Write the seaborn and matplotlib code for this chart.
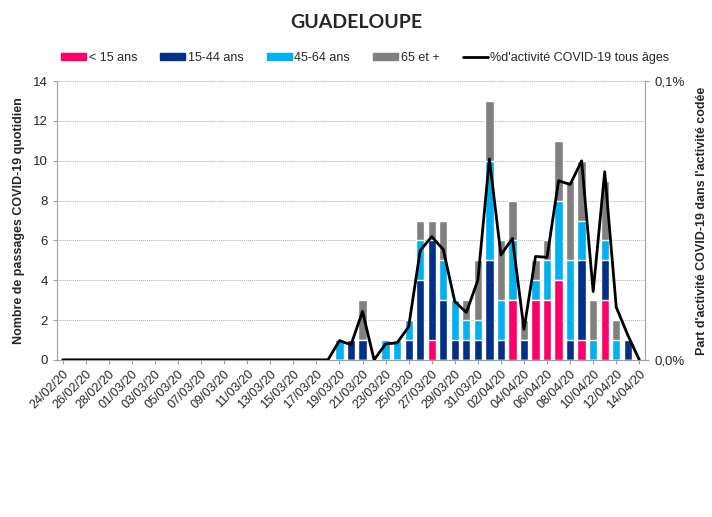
import numpy as np
import pandas as pd
import seaborn as sns
import matplotlib.pyplot as plt
from matplotlib.patches import Patch
from matplotlib.lines import Line2D

# Dates (daily, 24/02/20 -> 14/04/20)
dates = pd.date_range('2020-02-24', '2020-04-14').strftime('%d/%m/%y').tolist()

# Daily counts by age group (first 24 days are zero)
lt15 = [0] * 24 + [0, 0, 0, 0, 0, 0, 0, 0, 1, 0, 0, 0, 0, 0, 0, 3, 0, 3, 3, 4, 0, 1, 0, 3, 0, 0, 0]
a15_44 = [0] * 24 + [0, 1, 1, 0, 0, 0, 1, 4, 5, 3, 1, 1, 1, 5, 1, 0, 1, 0, 0, 0, 1, 4, 0, 2, 0, 1, 0]
a45_64 = [0] * 24 + [1, 0, 0, 0, 1, 1, 1, 2, 0, 2, 2, 1, 1, 5, 2, 3, 0, 1, 2, 4, 4, 2, 1, 1, 1, 0, 0]
a65 = [0] * 24 + [0, 0, 2, 0, 0, 0, 0, 1, 1, 2, 0, 1, 3, 3, 3, 2, 1, 1, 1, 3, 4, 3, 2, 3, 1, 0, 0]

# Share of COVID-19 activity, all ages (%)
pct_all = [0.0] * 24 + [0.0069, 0.0054, 0.0174, 0.0, 0.0057, 0.0061, 0.0119, 0.0392, 0.0442,
                        0.0396, 0.0209, 0.0170, 0.0286, 0.0721, 0.0376, 0.0436, 0.0110, 0.0371,
                        0.0368, 0.0643, 0.0629, 0.0714, 0.0245, 0.0675, 0.0189, 0.0089, 0.0]

colors = {'< 15 ans': '#FF0066', '15-44 ans': '#003087',
          '45-64 ans': '#00B0F0', '65 et +': '#808080'}

sns.set_style('white')
plt.rcParams['font.family'] = ['Liberation Sans', 'DejaVu Sans']

df = pd.DataFrame({'date': dates, 'lt15': lt15, 'a15_44': a15_44,
                   'a45_64': a45_64, 'a65': a65, 'pct': pct_all})
df['c1'] = df['lt15']
df['c2'] = df['c1'] + df['a15_44']
df['c3'] = df['c2'] + df['a45_64']
df['c4'] = df['c3'] + df['a65']

fig = plt.figure(figsize=(7.12, 5.17), dpi=100)
ax = fig.add_axes([0.080, 0.304, 0.826, 0.539])

# stacked bars drawn as overlapping cumulative totals
for col, name in [('c4', '65 et +'), ('c3', '45-64 ans'), ('c2', '15-44 ans'), ('c1', '< 15 ans')]:
    sns.barplot(data=df, x='date', y=col, color=colors[name], width=0.72,
                saturation=1, ax=ax, order=dates)

ax.set_ylim(0, 14)
ax.set_yticks(range(0, 15, 2))
ax.set_xlim(-0.5, len(dates) - 0.5)
ax.yaxis.grid(True, linestyle=(0, (1, 1)), color='#b0b0b0', linewidth=0.7)
ax.set_axisbelow(True)
ax.set_xticks(range(0, len(dates), 2))
ax.set_xticklabels(dates[::2], rotation=45, ha='right', rotation_mode='anchor', fontsize=9)
ax.tick_params(axis='y', labelsize=9.5, length=3, color='#a0a0a0', left=True)
ax.tick_params(axis='x', length=3, color='#a0a0a0', bottom=True, pad=3)
ax.set_xlabel('')
ax.set_ylabel('Nombre de passages COVID-19 quotidien', fontsize=9, fontweight='bold', labelpad=6)
for s in ['left', 'right', 'bottom']:
    ax.spines[s].set_color('#a0a0a0')
ax.spines['top'].set_visible(False)

ax2 = ax.twinx()
sns.lineplot(x=np.arange(len(dates)), y=df['pct'], color='black', linewidth=2, ax=ax2)
ax2.set_ylim(0, 0.1)
ax2.set_yticks([0, 0.1])
ax2.set_yticklabels(['0,0%', '0,1%'])
ax2.tick_params(axis='y', labelsize=9.5, length=3, color='#a0a0a0', right=True)
ax2.set_ylabel("Part d'activité COVID-19 dans l'activité codée", fontsize=9,
               fontweight='bold', labelpad=8)
for s in ax2.spines.values():
    s.set_visible(False)

fig.suptitle('GUADELOUPE', x=0.5, y=0.972, fontsize=14, fontweight='bold', family='Lato')

handles = [Patch(color=colors[k]) for k in colors] + [Line2D([], [], color='black', linewidth=2)]
labels = list(colors) + ["%d'activité COVID-19 tous âges"]
fig.legend(handles, labels, loc='center', bbox_to_anchor=(0.513, 0.888), ncol=5, frameon=False,
           fontsize=9, handlelength=2.0, handleheight=0.5, handletextpad=0.2, columnspacing=1.85)

fig.savefig('out.png', dpi=100)
